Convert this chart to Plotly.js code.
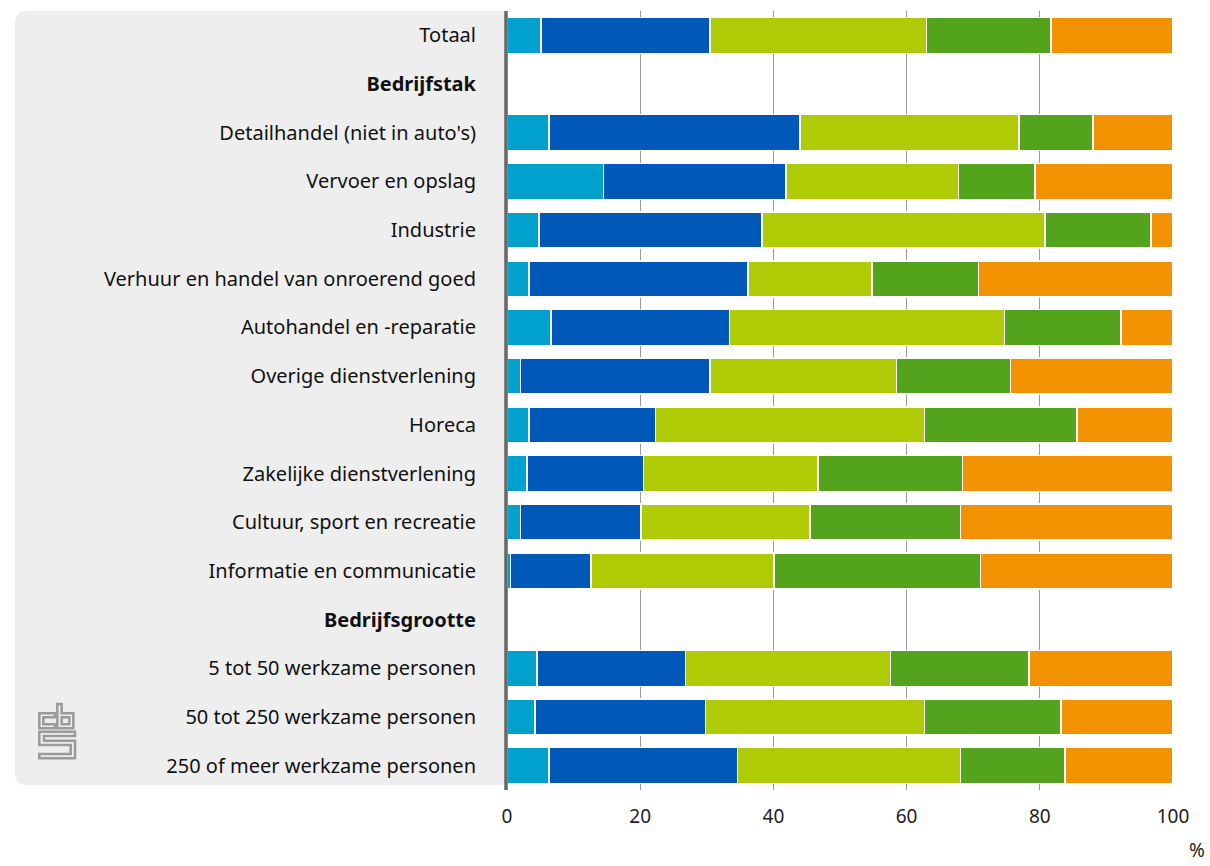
<!DOCTYPE html>
<html>
<head>
<meta charset="utf-8">
<script src="https://cdn.plot.ly/plotly-3.0.1.min.js"></script>
<style>html,body{margin:0;padding:0;background:#fff;}#chart{width:1210px;height:866px;}</style>
</head>
<body>
<div id="chart"></div>
<script>
// Categories (top to bottom); headers have no bars
const categories = [
  "Totaal",
  "Bedrijfstak",
  "Detailhandel (niet in auto's)",
  "Vervoer en opslag",
  "Industrie",
  "Verhuur en handel van onroerend goed",
  "Autohandel en -reparatie",
  "Overige dienstverlening",
  "Horeca",
  "Zakelijke dienstverlening",
  "Cultuur, sport en recreatie",
  "Informatie en communicatie",
  "Bedrijfsgrootte",
  "5 tot 50 werkzame personen",
  "50 tot 250 werkzame personen",
  "250 of meer werkzame personen"
];
const headerCategories = ["Bedrijfstak", "Bedrijfsgrootte"];

const seriesNames = ["Categorie 1", "Categorie 2", "Categorie 3", "Categorie 4", "Categorie 5"];
const series1 = [5.1, null, 6.3, 14.5, 4.8, 3.3, 6.6, 2.0, 3.3, 3.0, 2.0, 0.5, null, 4.5, 4.2, 6.3];
const series2 = [25.4, null, 37.7, 27.4, 33.5, 32.9, 26.8, 28.5, 19.0, 17.5, 18.1, 12.1, null, 22.3, 25.6, 28.3];
const series3 = [32.5, null, 32.9, 25.9, 42.5, 18.6, 41.3, 28.0, 40.4, 26.2, 25.4, 27.5, null, 30.8, 32.9, 33.5];
const series4 = [18.7, null, 11.1, 11.5, 15.9, 16.0, 17.5, 17.1, 22.9, 21.7, 22.6, 31.0, null, 20.8, 20.5, 15.7];
const series5 = [18.3, null, 12.0, 20.7, 3.3, 29.2, 7.8, 24.4, 14.4, 31.6, 31.9, 28.9, null, 21.6, 16.8, 16.2];

const xTickVals = [0, 20, 40, 60, 80, 100];
const xTickText = ["0", "20", "40", "60", "80", "100"];

const colors = ["#00a1cd", "#0058b8", "#afcb05", "#53a31d", "#f39200"];
const allSeries = [series1, series2, series3, series4, series5];

const traces = allSeries.map((vals, i) => ({
  type: "bar",
  orientation: "h",
  name: seriesNames[i],
  y: categories,
  x: vals,
  marker: { color: colors[i], line: { color: "#ffffff", width: 1.5 } },
  hoverinfo: "x+y+name"
}));

const tickText = categories.map(c => headerCategories.includes(c) ? "<b>" + c + "</b>" : c);

// Pixel geometry helpers for decorative shapes
const W = 1210, H = 866;
const mL = 507, mR = 37, mT = 11, mB = 76;
const pw = W - mL - mR, ph = H - mT - mB;
const px = x => (x - mL) / pw;
const py = y => 1 - (y - mT) / ph;
function pathFromPx(points, close) {
  let d = points.map((p, i) => (i === 0 ? "M" : "L") + px(p[0]).toFixed(5) + "," + py(p[1]).toFixed(5)).join(" ");
  return close ? d + " Z" : d;
}

// Grey panel with rounded left corners
const r = 12, pL = 15, pT = 11, pR = 507, pB = 785;
const panelPath =
  "M" + px(pR) + "," + py(pT) +
  " L" + px(pL + r) + "," + py(pT) +
  " Q" + px(pL) + "," + py(pT) + " " + px(pL) + "," + py(pT + r) +
  " L" + px(pL) + "," + py(pB - r) +
  " Q" + px(pL) + "," + py(pB) + " " + px(pL + r) + "," + py(pB) +
  " L" + px(pR) + "," + py(pB) + " Z";

// Logo (approximate cbs maze mark), zoom coords -> px
const lz = (zx, zy) => [20 + zx / 3, 690 + zy / 3];
const logoC = [lz(105,70), lz(58,70), lz(58,115), lz(105,115), lz(105,103), lz(70,103), lz(70,82), lz(105,82)];
const logoB = [lz(112,42), lz(125,42), lz(125,70), lz(160,70), lz(160,115), lz(112,115)];
const logoBin = [lz(125,82), lz(148,82), lz(148,103), lz(125,103)];
const logoS = [lz(58,125), lz(165,125), lz(165,138), lz(72,138), lz(72,152), lz(165,152), lz(165,205), lz(58,205), lz(58,192), lz(152,192), lz(152,165), lz(58,165)];

const shapes = [
  { type: "path", xref: "paper", yref: "paper", path: panelPath, fillcolor: "#eeeeee", line: { width: 0 }, layer: "below" },
  { type: "path", xref: "paper", yref: "paper", path: pathFromPx(logoC, true), line: { color: "#9a9a9a", width: 2.5 }, layer: "above" },
  { type: "path", xref: "paper", yref: "paper", path: pathFromPx(logoB, true), line: { color: "#9a9a9a", width: 2.5 }, layer: "above" },
  { type: "path", xref: "paper", yref: "paper", path: pathFromPx(logoBin, true), line: { color: "#9a9a9a", width: 2.5 }, layer: "above" },
  { type: "path", xref: "paper", yref: "paper", path: pathFromPx(logoS, true), line: { color: "#9a9a9a", width: 2.5 }, layer: "above" },
  // axis line at zero, above bars
  { type: "line", xref: "paper", yref: "paper", x0: px(506), x1: px(506), y0: py(790), y1: py(11), line: { color: "#666666", width: 3.5 }, layer: "above" }
];

const layout = {
  width: W, height: H,
  margin: { l: mL, r: mR, t: mT, b: mB },
  barmode: "stack",
  bargap: 0.26,
  showlegend: false,
  paper_bgcolor: "#ffffff",
  plot_bgcolor: "rgba(0,0,0,0)",
  font: { family: "Noto Sans, sans-serif", size: 20, color: "#000000" },
  xaxis: {
    range: [0, 100],
    tickvals: xTickVals,
    ticktext: xTickText,
    showgrid: true,
    gridcolor: "#999999",
    gridwidth: 1,
    zeroline: false,
    showline: false,
    ticks: "",
    ticklabelstandoff: 13,
    tickfont: { size: 19, color: "#222222" },
    fixedrange: true
  },
  yaxis: {
    type: "category",
    categoryorder: "array",
    categoryarray: categories,
    autorange: "reversed",
    tickvals: categories,
    ticktext: tickText,
    showgrid: false,
    zeroline: false,
    showline: false,
    ticks: "",
    ticklabelstandoff: 30,
    tickfont: { size: 20, color: "#111111" },
    fixedrange: true
  },
  shapes: shapes,
  annotations: [
    { xref: "paper", yref: "paper", x: px(1197), y: py(850), text: "%", showarrow: false, font: { size: 19, color: "#222222" }, xanchor: "center", yanchor: "middle" }
  ]
};

Plotly.newPlot("chart", traces, layout, { displayModeBar: false, staticPlot: false });
</script>
</body>
</html>
